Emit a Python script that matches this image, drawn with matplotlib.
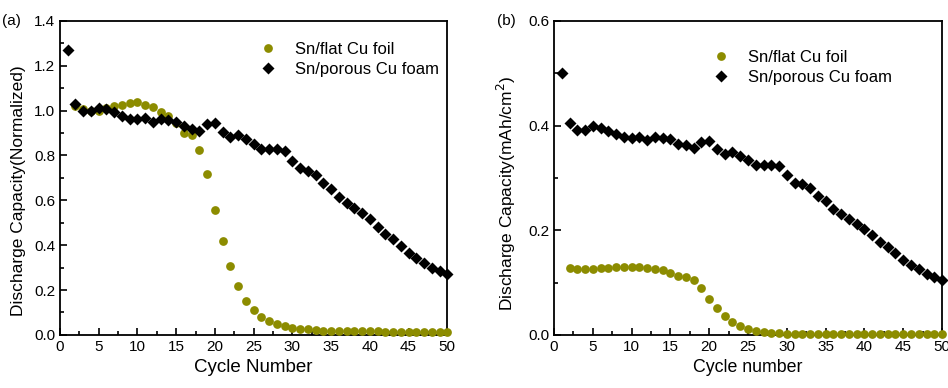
import matplotlib.pyplot as plt
import numpy as np
from matplotlib.ticker import MultipleLocator

plt.rcParams['font.family'] = ['Liberation Sans', 'DejaVu Sans']

# Cycle numbers
cycles_flat = np.arange(2, 51)
cycles_foam = np.arange(1, 51)

# (a) normalized capacity
norm_flat = [1.02, 1.006, 1.0, 1.0, 1.01, 1.021, 1.027, 1.034, 1.04, 1.025, 1.015,
             0.994, 0.976, 0.946, 0.902, 0.890, 0.825, 0.716, 0.558, 0.417, 0.306,
             0.217, 0.153, 0.110, 0.081, 0.061, 0.049, 0.040, 0.031, 0.027, 0.024,
             0.021, 0.019, 0.018, 0.017, 0.016, 0.016, 0.015, 0.015, 0.015, 0.014,
             0.014, 0.014, 0.014, 0.013, 0.013, 0.013, 0.013, 0.013]
norm_foam = [1.27, 1.028, 1.0, 1.0, 1.013, 1.007, 0.993, 0.976, 0.964, 0.961, 0.968,
             0.949, 0.961, 0.958, 0.949, 0.931, 0.919, 0.910, 0.940, 0.943, 0.905,
             0.881, 0.890, 0.875, 0.851, 0.828, 0.828, 0.830, 0.822, 0.777, 0.746,
             0.732, 0.711, 0.676, 0.650, 0.613, 0.590, 0.564, 0.543, 0.516, 0.483,
             0.450, 0.426, 0.396, 0.366, 0.342, 0.321, 0.299, 0.284, 0.270]

# (b) areal capacity, mAh/cm2
area_flat = [0.128, 0.126, 0.126, 0.126, 0.127, 0.128, 0.129, 0.130, 0.130, 0.129,
             0.128, 0.126, 0.123, 0.119, 0.113, 0.110, 0.104, 0.089, 0.069, 0.051,
             0.036, 0.025, 0.017, 0.011, 0.0075, 0.005, 0.004, 0.003, 0.0025, 0.002,
             0.002, 0.002, 0.0018, 0.0017, 0.0016, 0.0015, 0.0015, 0.0014, 0.0014,
             0.0013, 0.0013, 0.0013, 0.0012, 0.0012, 0.0012, 0.0012, 0.0011, 0.0011,
             0.0011]
area_foam = [0.500, 0.4045, 0.392, 0.392, 0.400, 0.396, 0.390, 0.383, 0.378, 0.376,
             0.379, 0.373, 0.378, 0.376, 0.374, 0.364, 0.362, 0.357, 0.369, 0.371,
             0.355, 0.346, 0.349, 0.342, 0.334, 0.325, 0.325, 0.325, 0.323, 0.305,
             0.291, 0.288, 0.281, 0.265, 0.256, 0.240, 0.231, 0.221, 0.212, 0.202,
             0.190, 0.177, 0.168, 0.156, 0.143, 0.134, 0.126, 0.116, 0.111, 0.104]

olive = '#8c8c00'

fig = plt.figure(figsize=(9.48, 3.88), dpi=100)
ax1 = fig.add_axes([0.0633, 0.137, 0.4085, 0.809])
ax2 = fig.add_axes([0.5844, 0.137, 0.4093, 0.809])


def style(ax, ymax, ymajor, yminor):
    ax.set_xlim(0, 50)
    ax.set_ylim(0, ymax)
    ax.xaxis.set_major_locator(MultipleLocator(5))
    ax.xaxis.set_minor_locator(MultipleLocator(2.5))
    ax.yaxis.set_major_locator(MultipleLocator(ymajor))
    ax.yaxis.set_minor_locator(MultipleLocator(yminor))
    ax.yaxis.set_major_formatter(plt.FormatStrFormatter('%.1f'))
    ax.tick_params(which='both', direction='in', labelsize=11, width=1.2)
    ax.tick_params(which='major', length=5)
    ax.tick_params(which='minor', length=3)
    for s in ax.spines.values():
        s.set_linewidth(1.3)


# (a)
ax1.plot(cycles_flat, norm_flat, 'o', color=olive, ms=6.3, mec='none',
         label='Sn/flat Cu foil', clip_on=False, zorder=3)
ax1.plot(cycles_foam, norm_foam, 'D', color='black', ms=6.3, mec='none',
         label='Sn/porous Cu foam', clip_on=False, zorder=4)
style(ax1, 1.4, 0.2, 0.1)
ax1.set_xlabel('Cycle Number', fontsize=13.5)
ax1.set_ylabel('Discharge Capacity(Normalized)', fontsize=12.5)
ax1.yaxis.set_label_coords(-0.088, 0.46)
ax1.legend(loc='upper left', bbox_to_anchor=(0.455, 0.98), frameon=False,
           fontsize=12, handletextpad=0.6, labelspacing=0.3)
fig.text(0.002, 0.945, '(a)', fontsize=11, va='center')

# (b)
ax2.plot(cycles_flat, area_flat, 'o', color=olive, ms=6.3, mec='none',
         label='Sn/flat Cu foil', clip_on=False, zorder=3)
ax2.plot(cycles_foam, area_foam, 'D', color='black', ms=6.3, mec='none',
         label='Sn/porous Cu foam', clip_on=False, zorder=4)
style(ax2, 0.6, 0.2, 0.1)
ax2.set_xlabel('Cycle number', fontsize=12.8)
ax2.set_ylabel('Discharge Capacity(mAh/cm$^2$)', fontsize=12.5)
ax2.yaxis.set_label_coords(-0.093, 0.45)
ax2.legend(loc='upper left', bbox_to_anchor=(0.35, 0.955), frameon=False,
           fontsize=12, handletextpad=0.6, labelspacing=0.3)
fig.text(0.524, 0.945, '(b)', fontsize=11, va='center')

fig.savefig('out.png', dpi=100)
